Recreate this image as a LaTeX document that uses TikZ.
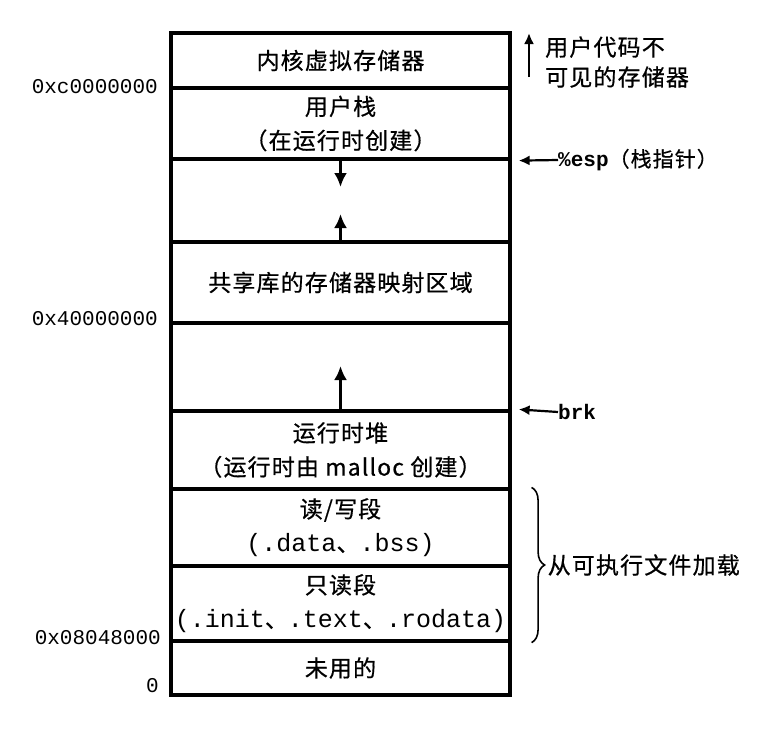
\documentclass[tikz,border=0pt]{standalone}
\usepackage{fontspec}
\setmainfont{Noto Sans CJK SC}[FakeBold=0.6,LetterSpace=5]
\setmonofont{Liberation Mono}
\usepackage{tikz}
\usetikzlibrary{positioning,arrows.meta,decorations.pathreplacing}
\newcommand{\seccode}[1]{{\ttfamily\fontsize{25}{34}\selectfont #1}}

\begin{document}
\begin{tikzpicture}[x=1pt,y=-1pt,>={Latex[length=14pt,width=13pt]},
	seg node/.style={rectangle,draw,line width=3.2pt,minimum width=339pt,inner sep=0pt,align=center,font=\fontsize{23}{34}\selectfont},
	addr node/.style={anchor=east,inner sep=0pt,font=\ttfamily\fontsize{21}{21}\selectfont},
	note node/.style={anchor=west,inner sep=0pt,align=left,font=\fontsize{23}{30}\selectfont},
	side arrow/.style={->,line width=2.2pt,>={Latex[length=11pt,width=10pt]}}]
	
	\useasboundingbox (0,0) rectangle (769,729);
	
	\node[seg node, minimum height=55pt] (kern) at (340.5,60.5) {内核虚拟存储器};
	\node[seg node, minimum height=71pt] (stack) at (340.5,123.5) {用户栈\\（在运行时创建）};
	\node[seg node, minimum height=83pt] (free1) at (340.5,200.5) {};
	\node[seg node, minimum height=81pt] (shlib) at (340.5,282.5) {共享库的存储器映射区域};
	\node[seg node, minimum height=88pt] (free2) at (340.5,367) {};
	\node[seg node, minimum height=78pt] (heap) at (340.5,450) {运行时堆\\（运行时由 malloc 创建）};
	\node[seg node, minimum height=77pt] (rw) at (340.5,527.5) {读/写段\\\seccode{(.data}、\seccode{.bss)}};
	\node[seg node, minimum height=75pt] (ro) at (340.5,603.5) {只读段\\\seccode{(.init}、\seccode{.text}、\seccode{.rodata)}};
	\node[seg node, minimum height=54pt] (unused) at (340.5,668) {未用的};
	
	\node[addr node] (addrK) at (158,87) {0xc0000000};
	\node[addr node] (addrS) at (158,319) {0x40000000};
	\node[addr node] (addrT) at (161,638) {0x08048000};
	\node[addr node] (addrZ) at (159,686) {0};
	
	\coordinate (stackend) at (340.5,187);
	\coordinate (shlibend) at (340.5,214);
	\coordinate (heapend) at (340.5,366);
	\draw[->,line width=3pt] (free1.north) -- (stackend);
	\draw[->,line width=3pt] (shlib.north) -- (shlibend);
	\draw[->,line width=3pt] (heap.north) -- (heapend);
	
	\coordinate (hidbot) at (529,77);
	\coordinate (hidtop) at (529,33);
	\draw[side arrow] (hidbot) -- (hidtop);
	\node[note node] (hidden) at (545,62) {用户代码不\\可见的存储器};
	
	\node[note node, font=\fontsize{21}{21}\selectfont] (esp) at (558,160) {\texttt{\bfseries\%esp}（栈指针）};
	\draw[side arrow] (esp.west) -- ([xshift=7pt]stack.south east);
	\node[note node, font=\ttfamily\bfseries\fontsize{21}{21}\selectfont] (brk) at (558,412) {brk};
	\draw[side arrow] (brk.west) -- ([xshift=7pt]heap.north east);
	
	\draw[decorate,decoration={brace,amplitude=13pt},line width=1.6pt] ([xshift=20pt]rw.north east) -- ([xshift=20pt]ro.south east)
	node[midway,anchor=west,xshift=12pt,font=\fontsize{23}{23}\selectfont] (load) {从可执行文件加载};
	
\end{tikzpicture}
\end{document}
